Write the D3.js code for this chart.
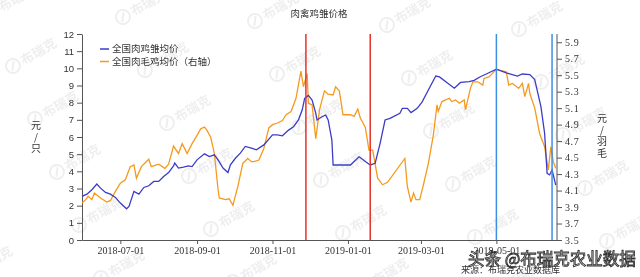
<!DOCTYPE html>
<html><head><meta charset="utf-8">
<script src="https://cdn.jsdelivr.net/npm/d3@7"></script>
<style>
html,body{margin:0;padding:0;background:#fff;}
svg{display:block;}
.cn{font-family:"Noto Sans CJK SC","Noto Sans",sans-serif;}
</style></head>
<body>
<svg id="c" width="640" height="277"></svg>
<script>
// ---- data ----
const chickDates = ["2018-05-31","2018-06-04","2018-06-08","2018-06-12","2018-06-15","2018-06-19","2018-06-23","2018-06-27","2018-07-01","2018-07-06","2018-07-08","2018-07-12","2018-07-16","2018-07-20","2018-07-24","2018-07-28","2018-08-01","2018-08-05","2018-08-09","2018-08-13","2018-08-14","2018-08-17","2018-08-21","2018-08-25","2018-08-28","2018-09-01","2018-09-07","2018-09-11","2018-09-15","2018-09-18","2018-09-22","2018-09-26","2018-09-28","2018-10-02","2018-10-06","2018-10-10","2018-10-15","2018-10-19","2018-10-25","2018-11-01","2018-11-05","2018-11-09","2018-11-14","2018-11-18","2018-11-22","2018-11-25","2018-11-27","2018-11-30","2018-12-03","2018-12-06","2018-12-07","2018-12-11","2018-12-14","2018-12-16","2018-12-19","2018-12-20","2019-01-03","2019-01-10","2019-01-17","2019-01-19","2019-01-23","2019-01-27","2019-01-31","2019-02-04","2019-02-12","2019-02-14","2019-02-18","2019-02-21","2019-02-26","2019-03-02","2019-03-07","2019-03-13","2019-03-16","2019-03-28","2019-04-02","2019-04-09","2019-04-13","2019-04-18","2019-04-22","2019-05-01","2019-05-09","2019-05-18","2019-05-22","2019-05-28","2019-06-01","2019-06-06","2019-06-09","2019-06-11","2019-06-13","2019-06-15","2019-06-18"];
const chickPrice = [2.54,2.67,2.93,3.26,3.02,2.77,2.67,2.48,2.15,1.82,1.96,2.83,2.67,3.06,3.16,3.41,3.41,3.70,3.93,4.32,4.48,4.19,4.24,4.32,4.28,4.67,5.02,4.86,4.96,4.67,4.19,3.93,4.38,4.76,5.06,5.45,5.35,5.25,5.54,6.12,6.12,6.07,6.40,6.60,7.00,7.57,8.25,8.42,8.15,7.38,6.99,7.18,7.28,6.99,5.82,4.37,4.37,4.85,4.47,4.37,4.47,5.63,6.99,7.09,7.38,7.67,7.67,7.42,7.67,8.05,8.74,9.55,9.50,8.84,9.18,9.22,9.30,9.51,9.64,9.95,9.74,9.55,9.67,9.64,9.35,7.77,6.21,3.88,3.79,4.08,3.20];

const broilerDates = ["2018-05-31","2018-06-03","2018-06-05","2018-06-08","2018-06-10","2018-06-15","2018-06-20","2018-06-23","2018-06-27","2018-07-01","2018-07-05","2018-07-09","2018-07-12","2018-07-14","2018-07-18","2018-07-24","2018-07-26","2018-08-01","2018-08-06","2018-08-09","2018-08-13","2018-08-17","2018-08-20","2018-08-24","2018-08-28","2018-09-01","2018-09-04","2018-09-07","2018-09-09","2018-09-12","2018-09-15","2018-09-18","2018-09-19","2018-09-24","2018-09-27","2018-09-30","2018-10-04","2018-10-08","2018-10-12","2018-10-15","2018-10-17","2018-10-21","2018-10-25","2018-10-29","2018-11-01","2018-11-05","2018-11-09","2018-11-12","2018-11-16","2018-11-20","2018-11-24","2018-11-26","2018-11-29","2018-11-30","2018-12-03","2018-12-06","2018-12-09","2018-12-13","2018-12-16","2018-12-20","2018-12-22","2018-12-25","2018-12-28","2019-01-03","2019-01-06","2019-01-09","2019-01-11","2019-01-15","2019-01-18","2019-01-21","2019-01-25","2019-01-29","2019-02-02","2019-02-16","2019-02-18","2019-02-21","2019-02-23","2019-02-25","2019-02-28","2019-03-03","2019-03-07","2019-03-11","2019-03-14","2019-03-15","2019-03-18","2019-03-24","2019-03-26","2019-03-29","2019-04-01","2019-04-05","2019-04-06","2019-04-10","2019-04-12","2019-04-16","2019-04-20","2019-04-21","2019-04-25","2019-04-29","2019-05-01","2019-05-09","2019-05-11","2019-05-14","2019-05-19","2019-05-22","2019-05-24","2019-05-27","2019-05-28","2019-06-01","2019-06-05","2019-06-09","2019-06-12","2019-06-14","2019-06-16","2019-06-18"];
const broilerPrice = [3.95,3.99,4.03,3.99,4.07,4.01,3.96,3.98,4.09,4.19,4.23,4.39,4.41,4.25,4.39,4.48,4.39,4.42,4.37,4.42,4.64,4.55,4.67,4.55,4.67,4.77,4.85,4.87,4.83,4.75,4.55,4.11,4.01,3.99,4.00,3.92,4.15,4.43,4.49,4.45,4.45,4.47,4.61,4.86,4.90,4.92,4.95,5.02,5.06,5.22,5.55,5.36,5.52,5.16,5.14,4.73,5.08,5.31,5.27,5.26,5.36,5.31,5.02,5.02,5.00,5.09,4.98,4.87,4.59,4.59,4.25,4.17,4.20,4.49,4.15,3.96,4.07,3.99,3.99,4.17,4.43,4.77,5.14,5.06,5.18,5.22,5.18,5.20,5.16,5.20,5.08,5.34,5.42,5.42,5.38,5.46,5.48,5.54,5.57,5.54,5.38,5.40,5.34,5.40,5.24,5.40,5.28,5.10,4.79,4.63,4.35,4.63,4.45,4.37];

const redMarkers = ["2018-11-28","2019-01-19"];
const blueMarkers = ["2019-05-01","2019-06-15"];
const xTickLabels = ["2018-07-01","2018-09-01","2018-11-01","2019-01-01","2019-03-01","2019-05-01"];
const leftTicks = [0,1,2,3,4,5,6,7,8,9,10,11,12];
const rightTicks = [3.5,3.7,3.9,4.1,4.3,4.5,4.7,4.9,5.1,5.3,5.5,5.7,5.9];
const seriesNames = ["全国肉鸡雏均价","全国肉毛鸡均价（右轴）"];
const title = "肉禽鸡雏价格";

// ---- drawing ----
const parse = d3.timeParse("%Y-%m-%d");
const svg = d3.select("#c");
svg.append("rect").attr("width",640).attr("height",277).attr("fill","#fff");

const L = 82, R = 557, T = 34, B = 240;
const x = d3.scaleTime().domain([parse("2018-05-31"), parse("2019-06-19")]).range([L, R]);
const yL = d3.scaleLinear().domain([0,12]).range([B,T]);
const yR = d3.scaleLinear().domain([3.5,6.0]).range([B,T]);

// faint watermarks
const wm = svg.append("g").attr("opacity",0.42);
for (let i=-1;i<6;i++){
  for (let j=-1;j<6;j++){
    const cx = 22*i + 132*j + 10, cy = 53*i + 4*j + 2;
    if (cx<-20||cx>660||cy<0||cy>285) continue;
    const g = wm.append("g").attr("transform",`translate(${cx},${cy}) rotate(-30)`);
    g.append("circle").attr("cx",-22).attr("cy",0).attr("r",7).attr("fill","none").attr("stroke","#d8d8d8").attr("stroke-width",2);
    g.append("line").attr("x1",-25).attr("y1",4).attr("x2",-19).attr("y2",-4).attr("stroke","#d8d8d8").attr("stroke-width",2);
    g.append("text").attr("class","cn").attr("x",-12).attr("y",5).attr("font-size",13).attr("font-weight","bold").attr("fill","#d8d8d8").text("布瑞克");
  }
}

// title
svg.append("text").attr("class","cn").attr("x",319).attr("y",17).attr("text-anchor","middle")
  .attr("font-size",9.5).attr("fill","#333").text(title);

// axes
const axisColor = "#555";
const gL = svg.append("g").attr("transform",`translate(${L},0)`)
  .call(d3.axisLeft(yL).tickValues(leftTicks).tickSize(5).tickSizeOuter(0).tickPadding(3).tickFormat(d3.format("d")));
const gR = svg.append("g").attr("transform",`translate(${R},0)`)
  .call(d3.axisRight(yR).tickValues(rightTicks).tickSize(5).tickSizeOuter(0).tickPadding(3).tickFormat(d3.format(".1f")));
const gB = svg.append("g").attr("transform",`translate(0,${B})`)
  .call(d3.axisBottom(x).tickValues(xTickLabels.map(parse)).tickSize(4).tickSizeOuter(0).tickPadding(3).tickFormat(d3.timeFormat("%Y-%m-%d")));
[gL,gR,gB].forEach(g=>{
  g.selectAll("path,line").attr("stroke",axisColor);
  g.selectAll("text").attr("fill","#333");
});
gL.selectAll("text").attr("font-family","Liberation Sans, sans-serif").attr("font-size",9.5);
gR.selectAll("text").attr("font-family","Liberation Serif, serif").attr("font-size",10).attr("letter-spacing","0.6px");
gB.selectAll("text").attr("font-family","Liberation Serif, serif").attr("font-size",10);
gR.select("path.domain").attr("d",`M0,${T}V${B}`);

// axis labels (vertical stacked)
const leftLab = ["元","/","只"], rightLab = ["元","/","羽","毛"];
svg.append("g").selectAll("text").data(leftLab).join("text").attr("class","cn")
  .attr("x",36).attr("y",(d,i)=>129+i*11.5).attr("text-anchor","middle").attr("font-size",10).attr("fill","#333").text(d=>d);
svg.append("g").selectAll("text").data(rightLab).join("text").attr("class","cn")
  .attr("x",602).attr("y",(d,i)=>122+i*11.5).attr("text-anchor","middle").attr("font-size",10).attr("fill","#333").text(d=>d);

// series
const blueData = chickDates.map((d,i)=>({d:parse(d), v:chickPrice[i]}));
const orangeData = broilerDates.map((d,i)=>({d:parse(d), v:broilerPrice[i]}));
const lineL = d3.line().x(p=>x(p.d)).y(p=>yL(p.v));
const lineR = d3.line().x(p=>x(p.d)).y(p=>yR(p.v));
const blueC = "#3c3cc8", orangeC = "#f59a1e";
svg.append("path").datum(orangeData).attr("d",lineR).attr("fill","none").attr("stroke",orangeC).attr("stroke-width",1.3);
svg.append("path").datum(blueData).attr("d",lineL).attr("fill","none").attr("stroke",blueC).attr("stroke-width",1.3);

// marker lines
svg.append("g").selectAll("line").data(redMarkers).join("line")
  .attr("x1",d=>x(parse(d))).attr("x2",d=>x(parse(d))).attr("y1",T).attr("y2",B)
  .attr("stroke","#e8302a").attr("stroke-width",1.5);
svg.append("g").selectAll("line").data(blueMarkers).join("line")
  .attr("x1",d=>x(parse(d))).attr("x2",d=>x(parse(d))).attr("y1",T).attr("y2",B)
  .attr("stroke","#3d8fe3").attr("stroke-width",1.5);

// legend
const leg = svg.append("g");
[blueC, orangeC].forEach((c,i)=>{
  leg.append("line").attr("x1",100).attr("x2",109).attr("y1",49+i*12.5).attr("y2",49+i*12.5).attr("stroke",c).attr("stroke-width",1.5);
  leg.append("text").attr("class","cn").attr("x",112).attr("y",49+i*12.5).attr("dy","0.35em")
    .attr("font-size",9.5).attr("fill","#333").text(seriesNames[i]);
});

// source + watermark
svg.append("text").attr("class","cn").attr("x",461).attr("y",273).attr("font-size",9).attr("fill","#333").text("来源：布瑞克农业数据库");
svg.append("text").attr("class","cn").attr("x",468).attr("y",265).attr("font-size",16.5)
  .attr("fill","#fff").attr("stroke","#333").attr("stroke-width",0.9).text("头条 @布瑞克农业数据");
</script>
</body></html>
